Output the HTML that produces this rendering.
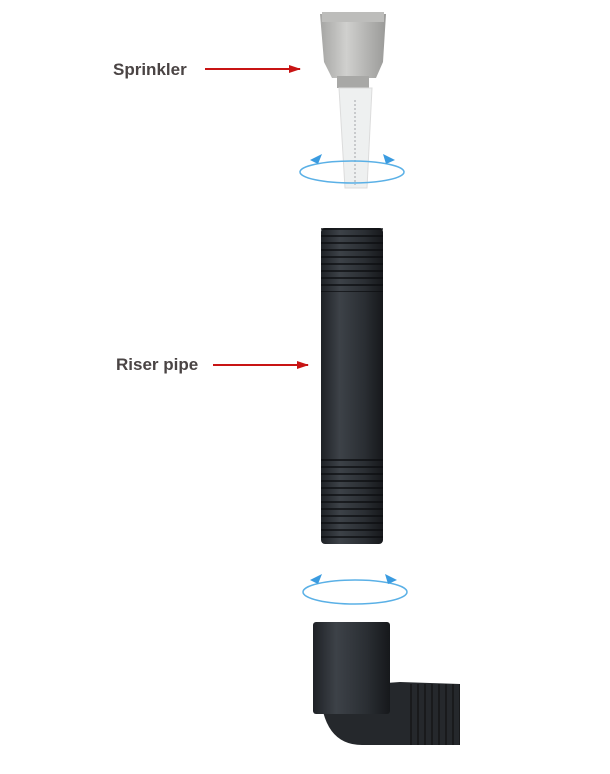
<!DOCTYPE html>
<html><head><style>
body{margin:0;background:#fff;width:610px;height:774px;overflow:hidden}
svg{display:block}
text{font-family:"Liberation Sans",sans-serif;font-weight:bold;font-size:17px;fill:#4a4444}
</style></head><body>
<svg width="610" height="774" viewBox="0 0 610 774">
<defs>
<linearGradient id="cap" x1="0" x2="1"><stop offset="0" stop-color="#a5a5a3"/><stop offset=".4" stop-color="#d0d0ce"/><stop offset="1" stop-color="#9a9a98"/></linearGradient>
<linearGradient id="pipe" x1="0" x2="1"><stop offset="0" stop-color="#1e2126"/><stop offset=".3" stop-color="#3d4248"/><stop offset=".7" stop-color="#2a2e33"/><stop offset="1" stop-color="#16181b"/></linearGradient>
<pattern id="thr" width="8" height="7" patternUnits="userSpaceOnUse"><rect y="4" width="8" height="2" fill="#0c0d0f" opacity=".7"/></pattern>
<pattern id="thrv" width="7" height="8" patternUnits="userSpaceOnUse"><rect x="4" width="2" height="8" fill="#111" opacity=".6"/></pattern>
<marker id="ar" markerWidth="12" markerHeight="8" refX="11" refY="4" orient="auto" markerUnits="userSpaceOnUse"><path d="M0,0L12,4L0,8z" fill="#c81414"/></marker>
</defs>
<text x="113" y="75">Sprinkler</text>
<line x1="205" y1="69" x2="300" y2="69" stroke="#c81414" stroke-width="2" marker-end="url(#ar)"/>
<text x="116" y="370">Riser pipe</text>
<line x1="213" y1="365" x2="308" y2="365" stroke="#c81414" stroke-width="2" marker-end="url(#ar)"/>
<path d="M320 14 L386 14 L383 62 L376 78 L332 78 L324 62 Z" fill="url(#cap)"/>
<rect x="322" y="12" width="62" height="10" fill="#bdbdbb"/>
<rect x="337" y="76" width="32" height="12" fill="#a8a8a6"/>
<path d="M339 88 L372 88 L367 188 L345 188 Z" fill="#eef0f0" stroke="#dcdcdc"/>
<line x1="355" y1="100" x2="355" y2="185" stroke="#c8cacc" stroke-width="2" stroke-dasharray="2 2"/>
<ellipse cx="352" cy="172" rx="52" ry="11" fill="none" stroke="#5ab0e6" stroke-width="1.5"/>
<path d="M310 160 L322 154 L318 164 Z" fill="#3a9be0"/>
<path d="M395 160 L383 154 L386 164 Z" fill="#3a9be0"/>
<rect x="321" y="228" width="62" height="316" rx="4" fill="url(#pipe)"/>
<rect x="321" y="228" width="62" height="64" fill="url(#thr)"/>
<rect x="321" y="455" width="62" height="88" fill="url(#thr)"/>
<ellipse cx="355" cy="592" rx="52" ry="12" fill="none" stroke="#5ab0e6" stroke-width="1.5"/>
<path d="M310 580 L322 574 L318 584 Z" fill="#3a9be0"/>
<path d="M397 580 L385 574 L388 584 Z" fill="#3a9be0"/>
<path d="M320 688 Q322 745 362 745 L460 745 L460 684 L400 682 Z" fill="#25282c"/>
<rect x="408" y="684" width="52" height="61" fill="url(#thrv)"/>
<rect x="313" y="622" width="77" height="92" rx="3" fill="url(#pipe)"/>
</svg>
</body></html>
